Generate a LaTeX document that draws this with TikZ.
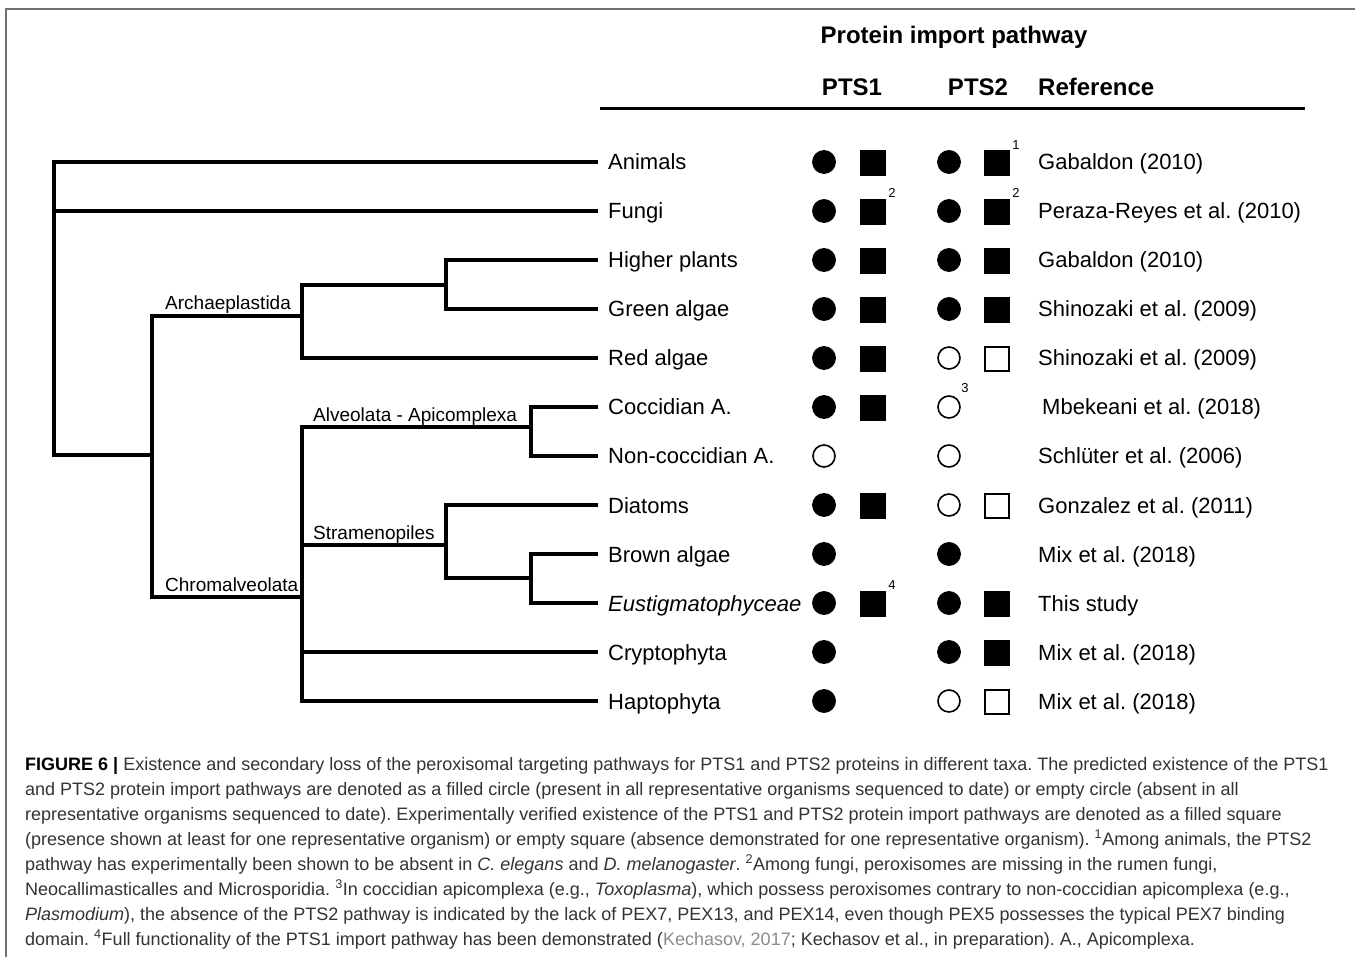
\documentclass[tikz,border=0pt]{standalone}
\usepackage{fontspec}
\setmainfont{Liberation Sans}
\newfontfamily\capfont{Liberation Sans}
\usetikzlibrary{calc}
\definecolor{framegray}{HTML}{707070}
\definecolor{captext}{HTML}{333333}
\definecolor{linkgray}{HTML}{8C8C8C}
\tikzset{
  br/.style={line width=4pt, line join=miter, line cap=rect},
  taxon/.style={anchor=base west, inner sep=0pt, font=\fontsize{22}{24}\selectfont},
  clade/.style={anchor=base west, inner sep=0pt, font=\fontsize{19}{21}\selectfont},
  refl/.style={anchor=base west, inner sep=0pt, font=\fontsize{22}{24}\selectfont},
  hdr/.style={inner sep=0pt, font=\fontsize{24}{26}\selectfont\bfseries},
  fc/.style={circle, fill=black, draw=black, line width=0.8pt, minimum size=23pt, inner sep=0pt},
  ec/.style={circle, fill=white, draw=black, line width=1.6pt, minimum size=22pt, inner sep=0pt},
  fs/.style={rectangle, fill=black, draw=black, line width=0.8pt, minimum size=25pt, inner sep=0pt},
  es/.style={rectangle, fill=white, draw=black, line width=1.6pt, minimum size=23.5pt, inner sep=0pt},
  sup/.style={inner sep=0pt, font=\fontsize{13}{14}\selectfont},
  capline/.style={anchor=base west, inner sep=0pt, text=captext, font=\capfont\fontsize{18}{20}\selectfont},
}
\begin{document}
\frenchspacing
\begin{tikzpicture}[x=1pt, y=-1pt]
\useasboundingbox (0,0) rectangle (1355,957);
\fill[white] (0,0) rectangle (1355,957);
% frame
\draw[framegray, line width=2pt] (6,957) -- (6,9) -- (1355,9);

% header
\node[hdr] (title) at (954,37) {Protein import pathway};
\node[hdr] (hPTS1) at (852,87) {PTS1};
\node[hdr] (hPTS2) at (978,87) {PTS2};
\node[hdr, anchor=west] (hRef) at (1038,87) {Reference};
\coordinate (hl1) at (600,109);
\coordinate (hl2) at (1305,109);
\draw[line width=3pt] (hl1) -- (hl2);

% taxa labels (baseline = row + 8)
\node[taxon] (tAnimals) at (608,170) {Animals};
\node[taxon] (tFungi) at (608,219) {Fungi};
\node[taxon] (tHigher) at (608,268) {Higher plants};
\node[taxon] (tGreen) at (608,317) {Green algae};
\node[taxon] (tRed) at (608,366) {Red algae};
\node[taxon] (tCocc) at (608,415) {Coccidian A.};
\node[taxon] (tNonc) at (608,464) {Non-coccidian A.};
\node[taxon] (tDiat) at (608,513) {Diatoms};
\node[taxon] (tBrown) at (608,562) {Brown algae};
\node[taxon] (tEust) at (608,611) {\itshape Eustigmatophyceae};
\node[taxon] (tCrypto) at (608,660) {Cryptophyta};
\node[taxon] (tHapto) at (608,709) {Haptophyta};

% leaf ends
\foreach \n in {Animals,Fungi,Higher,Green,Red,Cocc,Nonc,Diat,Brown,Eust,Crypto,Hapto}
  \coordinate (e\n) at ([xshift=-12pt,yshift=8pt]t\n.base west);

% internal nodes
\coordinate (root) at (54,455);
\coordinate (n1) at (152,455);
\coordinate (arch) at (302,316);
\coordinate (plants) at (446,285);
\coordinate (chrom) at (302,597);
\coordinate (alv) at (531,427);
\coordinate (stram) at (446,545);
\coordinate (brown) at (531,578);

% tree
\draw[br] (eAnimals) -| (root) -- (n1);
\draw[br] (eFungi) -- (eFungi -| root);
\draw[br] (arch) -| (n1);
\draw[br] (chrom) -| (n1);
\draw[br] (plants) -| (arch);
\draw[br] (eRed) -| (arch);
\draw[br] (eHigher) -| (plants);
\draw[br] (eGreen) -| (plants);
\draw[br] (alv) -| (chrom);
\draw[br] (eHapto) -| (chrom);
\draw[br] (stram) -- (stram -| chrom);
\draw[br] (eCrypto) -- (eCrypto -| chrom);
\draw[br] (eCocc) -| (alv);
\draw[br] (eNonc) -| (alv);
\draw[br] (eDiat) -| (stram);
\draw[br] (brown) -| (stram);
\draw[br] (eBrown) -| (brown);
\draw[br] (eEust) -| (brown);

% clade labels
\node[clade] (lArch) at (165,310) {Archaeplastida};
\node[clade] (lChrom) at (165,591) {Chromalveolata};
\node[clade] (lAlv) at (313,421) {Alveolata - Apicomplexa};
\node[clade] (lStram) at (313,539) {Stramenopiles};

% symbols: rows
% Animals
\node[fc] (a1) at (824,162) {}; \node[fs] (a2) at (873,163) {};
\node[fc] (a3) at (949,162) {}; \node[fs] (a4) at (997,163) {};
\node[sup] (s1) at (1016,145) {1};
% Fungi
\node[fc] (b1) at (824,211) {}; \node[fs] (b2) at (873,212) {};
\node[fc] (b3) at (949,211) {}; \node[fs] (b4) at (997,212) {};
\node[sup] (s2a) at (892,193) {2};
\node[sup] (s2b) at (1016,193) {2};
% Higher plants
\node[fc] (c1) at (824,260) {}; \node[fs] (c2) at (873,261) {};
\node[fc] (c3) at (949,260) {}; \node[fs] (c4) at (997,261) {};
% Green algae
\node[fc] (d1) at (824,309) {}; \node[fs] (d2) at (873,310) {};
\node[fc] (d3) at (949,309) {}; \node[fs] (d4) at (997,310) {};
% Red algae
\node[fc] (f1) at (824,358) {}; \node[fs] (f2) at (873,359) {};
\node[ec] (f3) at (949,358) {}; \node[es] (f4) at (997,359) {};
% Coccidian
\node[fc] (g1) at (824,407) {}; \node[fs] (g2) at (873,408) {};
\node[ec] (g3) at (949,407) {};
\node[sup] (s3) at (965,388) {3};
% Non-coccidian
\node[ec] (h1) at (824,456) {};
\node[ec] (h3) at (949,456) {};
% Diatoms
\node[fc] (i1) at (824,505) {}; \node[fs] (i2) at (873,506) {};
\node[ec] (i3) at (949,505) {}; \node[es] (i4) at (997,506) {};
% Brown algae
\node[fc] (j1) at (824,554) {};
\node[fc] (j3) at (949,554) {};
% Eustigmatophyceae
\node[fc] (k1) at (824,603) {}; \node[fs] (k2) at (873,604) {};
\node[fc] (k3) at (949,603) {}; \node[fs] (k4) at (997,604) {};
\node[sup] (s4) at (892,585) {4};
% Cryptophyta
\node[fc] (l1) at (824,652) {};
\node[fc] (l3) at (949,652) {}; \node[fs] (l4) at (997,653) {};
% Haptophyta
\node[fc] (m1) at (824,701) {};
\node[ec] (m3) at (949,701) {}; \node[es] (m4) at (997,702) {};

% references (baseline = row + 8)
\node[refl] (rAnimals) at (1038,170) {Gabaldon (2010)};
\node[refl] (rFungi) at (1038,219) {Peraza-Reyes et al. (2010)};
\node[refl] (rHigher) at (1038,268) {Gabaldon (2010)};
\node[refl] (rGreen) at (1038,317) {Shinozaki et al. (2009)};
\node[refl] (rRed) at (1038,366) {Shinozaki et al. (2009)};
\node[refl] (rCocc) at (1042,415) {Mbekeani et al. (2018)};
\node[refl] (rNonc) at (1038,464) {Schlüter et al. (2006)};
\node[refl] (rDiat) at (1038,513) {Gonzalez et al. (2011)};
\node[refl] (rBrown) at (1038,562) {Mix et al. (2018)};
\node[refl] (rEust) at (1038,611) {This study};
\node[refl] (rCrypto) at (1038,660) {Mix et al. (2018)};
\node[refl] (rHapto) at (1038,709) {Mix et al. (2018)};

% caption
\node[capline] (cap1) at (25,770) {\textcolor{black}{\bfseries FIGURE 6 |} Existence and secondary loss of the peroxisomal targeting pathways for PTS1 and PTS2 proteins in different taxa. The predicted existence of the PTS1};
\node[capline] (cap2) at (25,795) {and PTS2 protein import pathways are denoted as a filled circle (present in all representative organisms sequenced to date) or empty circle (absent in all};
\node[capline] (cap3) at (25,820) {representative organisms sequenced to date). Experimentally verified existence of the PTS1 and PTS2 protein import pathways are denoted as a filled square};
\node[capline] (cap4) at (25,845) {(presence shown at least for one representative organism) or empty square (absence demonstrated for one representative organism). \textsuperscript{1}Among animals, the PTS2};
\node[capline] (cap5) at (25,870) {pathway has experimentally been shown to be absent in \textit{C. elegans} and \textit{D. melanogaster}. \textsuperscript{2}Among fungi, peroxisomes are missing in the rumen fungi,};
\node[capline] (cap6) at (25,895) {Neocallimasticalles and Microsporidia. \textsuperscript{3}In coccidian apicomplexa (e.g., \textit{Toxoplasma}), which possess peroxisomes contrary to non-coccidian apicomplexa (e.g.,};
\node[capline] (cap7) at (25,920) {\textit{Plasmodium}), the absence of the PTS2 pathway is indicated by the lack of PEX7, PEX13, and PEX14, even though PEX5 possesses the typical PEX7 binding};
\node[capline] (cap8) at (25,945) {domain. \textsuperscript{4}Full functionality of the PTS1 import pathway has been demonstrated (\textcolor{linkgray}{Kechasov, 2017}; Kechasov et al., in preparation). A., Apicomplexa.};
\end{tikzpicture}
\end{document}
